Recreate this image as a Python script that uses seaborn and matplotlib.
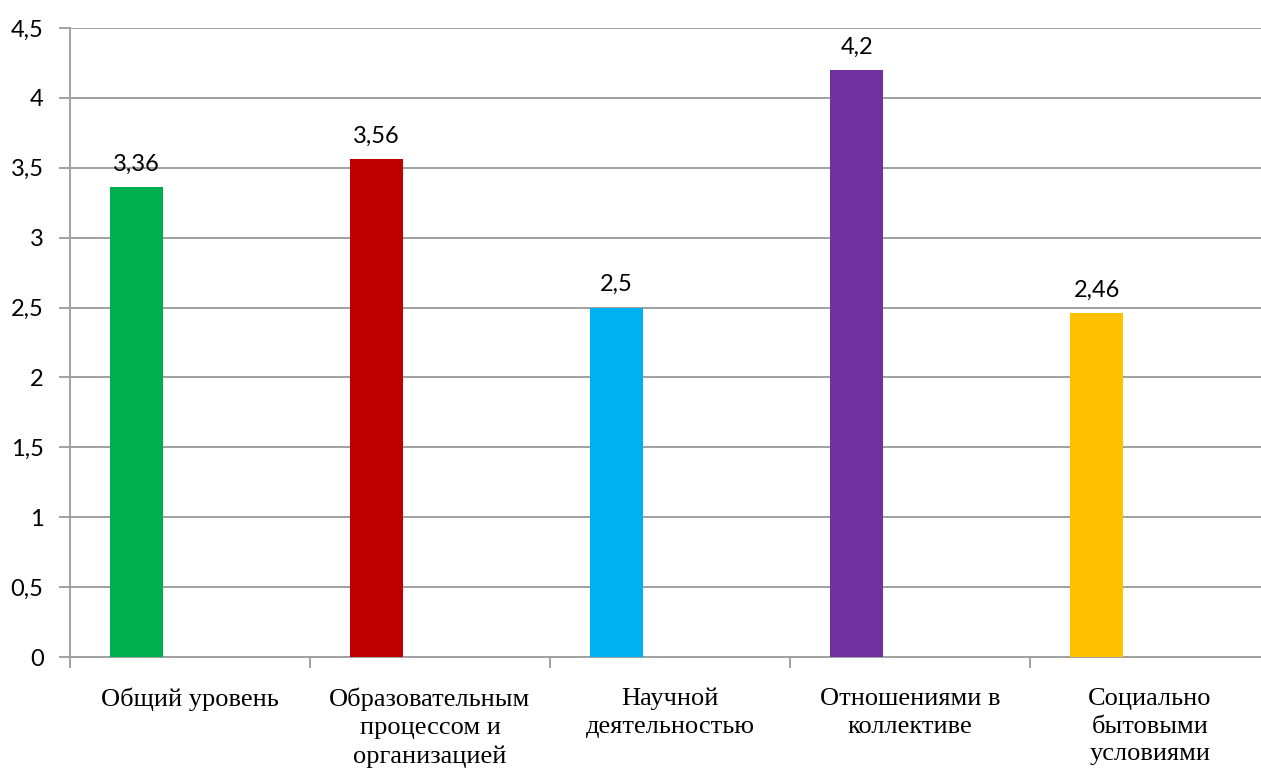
import matplotlib
matplotlib.use("Agg")
import matplotlib.pyplot as plt
import seaborn as sns
import pandas as pd
from matplotlib.ticker import FixedLocator, FuncFormatter

# ---- data ----
categories = [
    "Общий уровень",
    "Образовательным\nпроцессом и\nорганизацией",
    "Научной\nдеятельностью",
    "Отношениями в\nколлективе",
    "Социально\nбытовыми\nусловиями",
]
values = [3.36, 3.56, 2.5, 4.2, 2.46]
colors = ["#00B050", "#C00000", "#00B0F0", "#7030A0", "#FFC000"]
y_ticks = [0, 0.5, 1, 1.5, 2, 2.5, 3, 3.5, 4, 4.5]

sns.set_theme(style="white")
plt.rcParams["font.family"] = ["Lato", "DejaVu Sans"]

GRID = "#A0A0A0"
BAR_W = 1 / 4.5

fig = plt.figure(figsize=(12.61, 7.72), dpi=100)
ax = fig.add_axes([70 / 1261, 115 / 772, 1200 / 1261, 629 / 772])

df = pd.DataFrame({"cat": categories, "val": values})
sns.barplot(data=df, x="cat", y="val", hue="cat", palette=colors,
            width=BAR_W, saturation=1, legend=False, ax=ax, zorder=3)

# shift bars to the first slot of an Excel-like 3-series cluster
for p in ax.patches:
    p.set_x(p.get_x() - BAR_W)
    p.set_linewidth(0)

def fmt(v):
    return f"{v:g}".replace(".", ",")

for p in ax.patches:
    h = p.get_height()
    ax.annotate(fmt(h), (p.get_x() + p.get_width() / 2, h),
                xytext=(0, 9), textcoords="offset points",
                ha="center", va="bottom", fontsize=17, color="#000000")

ax.set_xlim(-0.5, 4.5)
ax.set_ylim(0, 4.5)
ax.yaxis.set_major_locator(FixedLocator(y_ticks))
ax.yaxis.set_major_formatter(FuncFormatter(lambda v, pos: fmt(round(v, 2))))
ax.set_axisbelow(True)
ax.yaxis.grid(True, color=GRID, linewidth=1.4)
ax.xaxis.grid(False)

for s in ["top", "right"]:
    ax.spines[s].set_visible(False)
for s in ["left", "bottom"]:
    ax.spines[s].set_color(GRID)
    ax.spines[s].set_linewidth(1.4)

ax.tick_params(axis="y", left=True, length=8, width=1.4, color=GRID,
               pad=11, labelsize=17, labelcolor="#000000", direction="out")

ax.set_xticks(range(len(categories)))
ax.set_xticklabels(categories, fontfamily="Liberation Serif", fontsize=19,
                   color="#000000", linespacing=1.35)
ax.tick_params(axis="x", which="major", bottom=True, length=0, pad=22)
ax.xaxis.set_minor_locator(FixedLocator([i - 0.5 for i in range(len(categories) + 1)]))
ax.tick_params(axis="x", which="minor", bottom=True, length=8, width=1.4,
               color=GRID, direction="out")

ax.set_xlabel("")
ax.set_ylabel("")

fig.savefig("out.png", dpi=100)
